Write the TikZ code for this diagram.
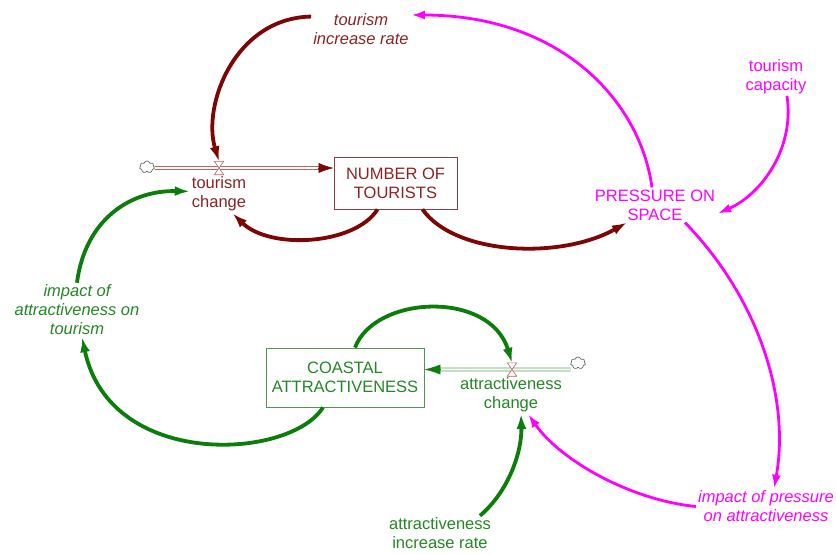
\documentclass[tikz,border=0pt]{standalone}
\usepackage{fontspec}
\setmainfont{Liberation Sans}
\usetikzlibrary{arrows.meta,shapes.symbols}

\definecolor{linkred}{RGB}{125,5,5}
\definecolor{textred}{RGB}{140,35,35}
\definecolor{boxred}{RGB}{150,60,60}
\definecolor{pipered}{RGB}{170,80,80}
\definecolor{valvered}{RGB}{190,95,95}
\definecolor{linkgreen}{RGB}{10,125,10}
\definecolor{textgreen}{RGB}{35,135,35}
\definecolor{boxgreen}{RGB}{80,150,80}
\definecolor{pipegreen}{RGB}{90,165,90}
\definecolor{pink}{RGB}{255,0,255}

\begin{document}
\begin{tikzpicture}[x=1pt,y=-1pt,
	lbl/.style={align=center,font=\fontsize{16.5}{19}\selectfont,inner sep=2pt},
	stock/.style={lbl,draw,line width=0.8pt,minimum height=52pt},
	valve/.style={minimum width=9pt,minimum height=13pt,inner sep=0pt},
	source/.style={cloud,cloud puffs=7,cloud ignores aspect,draw=gray!80!black,line width=0.7pt,minimum width=15pt,minimum height=12pt,inner sep=0pt},
	pipe/.style={double=white,double distance=2.2pt,line width=0.7pt},
	thick link/.style={line width=3.8pt,-{Latex[length=15pt,width=10pt]}},
	thin link/.style={line width=2.8pt,-{Latex[length=14pt,width=9pt]}}]
	\useasboundingbox (0,0) rectangle (836,554);
	% stocks
	\node[stock,draw=boxred,text=textred,minimum width=123pt] (tourists) at (395.5,183) {NUMBER OF\\TOURISTS};
	\node[stock,draw=boxgreen,text=textgreen,minimum width=158pt,minimum height=59pt] (coastal) at (345,377.5) {COASTAL\\ATTRACTIVENESS};
	% flows
	\node[valve] (tvalve) at (219,168) {};
	\node[source] (tcloud) at (147,167) {};
	\node[valve] (avalve) at (512,369.5) {};
	\node[source] (acloud) at (578,363) {};
	\node[lbl,text=textred] (tchange) at (219,194) {tourism\\change};
	\node[lbl,text=textgreen] (achange) at (511,394.5) {attractiveness\\change};
	% auxiliaries
	\node[lbl,text=textred,font=\fontsize{16.5}{19}\selectfont\itshape] (trate) at (361,29) {tourism\\increase rate};
	\node[lbl,text=pink] (pressure) at (655,205) {PRESSURE ON\\SPACE};
	\node[lbl,text=pink] (capacity) at (776,76.5) {tourism\\capacity};
	\node[lbl,text=textgreen,font=\fontsize{16.5}{19}\selectfont\itshape] (impacta) at (77,310) {impact of\\attractiveness on\\tourism};
	\node[lbl,text=pink,font=\fontsize{16.5}{19}\selectfont\itshape] (impactp) at (766,506.5) {impact of pressure\\on attractiveness};
	\node[lbl,text=textgreen] (arate) at (440,533.5) {attractiveness\\increase rate};

	\draw[pipe,pipered,shorten >=14pt] ([yshift=-1pt]tcloud.east) -- ([yshift=15pt]tourists.west);
	\draw[linkred,line width=0.5pt,-{Latex[length=15pt,width=10pt]}] ([xshift=-16pt,yshift=15pt]tourists.west) -- ([yshift=15pt]tourists.west);
	\draw[pipe,pipegreen,shorten >=15pt] ([yshift=-6.5pt]acloud.west) -- ([yshift=8pt]coastal.east);
	\draw[linkgreen,line width=0.5pt,-{Latex[length=16pt,width=10pt]}] ([xshift=16pt,yshift=8pt]coastal.east) -- ([yshift=8pt]coastal.east);
	\foreach \v in {tvalve,avalve}
		\draw[valvered,fill=white,line width=0.6pt] (\v.north west) -- (\v.north east) -- (\v.south west) -- (\v.south east) -- cycle;

	% links
	\draw[thick link,linkred] (trate.166) .. controls (235,18) and (202,105) .. (tvalve.north);
	\draw[thick link,linkred] ([xshift=-18pt]tourists.south) .. controls (355,245) and (270,250) .. (tchange.-55);
	\draw[thick link,linkred] ([xshift=27pt]tourists.south) .. controls (455,255) and (560,260) .. ([xshift=-28pt]pressure.south);
	\draw[thin link,pink] ([xshift=-3pt]pressure.north) .. controls (640,100) and (560,15) .. ([yshift=14pt]trate.east);
	\draw[thin link,pink] ([xshift=11pt]capacity.south) .. controls (795,150) and (760,195) .. (pressure.-8);
	\draw[thin link,pink] ([xshift=30pt]pressure.south) .. controls (760,300) and (790,400) .. ([xshift=8pt]impactp.north);
	\draw[thin link,pink] (impactp.west) .. controls (630,500) and (560,460) .. ([xshift=17pt]achange.south);
	\draw[thick link,linkgreen] ([xshift=40pt]arate.north) .. controls (510,490) and (522,450) .. ([xshift=10pt]achange.south);
	\draw[thick link,linkgreen] ([xshift=10pt]coastal.north) .. controls (375,295) and (490,290) .. (avalve.north);
	\draw[thick link,linkgreen] ([xshift=-22pt]coastal.south) .. controls (290,460) and (110,470) .. ([xshift=5pt]impacta.south);
	\draw[thick link,linkgreen] (impacta.north) .. controls (85,220) and (130,190) .. (tchange.175);
\end{tikzpicture}
\end{document}
